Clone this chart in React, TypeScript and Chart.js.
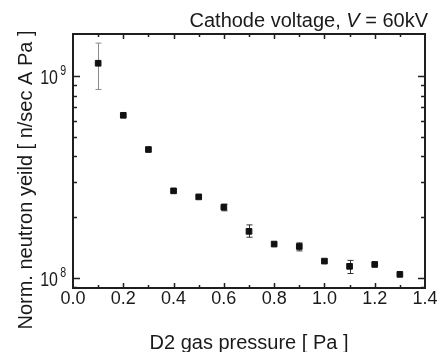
import React, { useEffect, useRef } from "react";
import { Chart, registerables } from "chart.js";
Chart.register(...registerables);

const pressures = [0.1, 0.2, 0.3, 0.4, 0.5, 0.6, 0.7, 0.8, 0.9, 1.0, 1.1, 1.2, 1.3];
const yields = [1.16e9, 6.4e8, 4.33e8, 2.7e8, 2.52e8, 2.24e8, 1.7e8, 1.47e8, 1.43e8, 1.21e8, 1.14e8, 1.165e8, 1.04e8];
const errUpper = [1.46e9, null, null, null, null, 2.32e8, 1.83e8, null, 1.49e8, null, 1.22e8, null, null];
const errLower = [8.6e8, null, null, null, null, 2.15e8, 1.59e8, null, 1.36e8, null, 1.05e8, null, null];
const yTickValues = [9e7, 1e8, 2e8, 3e8, 4e8, 5e8, 6e8, 7e8, 8e8, 9e8, 1e9];
const yLabelTicks = [1e8, 1e9];
const yLabelExponents = ["8", "9"];
const xTickValues = [0, 0.1, 0.2, 0.3, 0.4, 0.5, 0.6, 0.7, 0.8, 0.9, 1.0, 1.1, 1.2, 1.3, 1.4];

const FONT = "'Liberation Sans', Arial, sans-serif";
const AXIS_COLOR = "#1e1e1e";
const TEXT_COLOR = "#1a1a1a";

const framePlugin = {
  id: "frameAndExtras",
  beforeDatasetsDraw(chart: any) {
    const { ctx, scales } = chart;
    const x = scales.x, y = scales.y;
    ctx.save();
    ctx.lineWidth = 1;
    pressures.forEach((p, i) => {
      const hi = errUpper[i], lo = errLower[i];
      if (hi == null || lo == null) return;
      const px = Math.round(x.getPixelForValue(p)) + 0.5;
      const pyH = y.getPixelForValue(hi);
      const pyL = y.getPixelForValue(lo);
      ctx.strokeStyle = i === 0 ? "#8a8a8a" : "#333";
      ctx.beginPath();
      ctx.moveTo(px, pyH); ctx.lineTo(px, pyL);
      ctx.moveTo(px - 3, pyH); ctx.lineTo(px + 3, pyH);
      ctx.moveTo(px - 3, pyL); ctx.lineTo(px + 3, pyL);
      ctx.stroke();
    });
    ctx.restore();
  },
  afterDraw(chart: any) {
    const { ctx, chartArea: a, scales } = chart;
    const x = scales.x, y = scales.y;
    ctx.save();
    ctx.strokeStyle = AXIS_COLOR;
    ctx.lineWidth = 2;
    ctx.strokeRect(a.left, a.top, a.right - a.left, a.bottom - a.top);
    ctx.lineWidth = 1.5;
    ctx.beginPath();
    xTickValues.forEach((v, i) => {
      const px = Math.round(x.getPixelForValue(v)) + 0.5;
      const len = i % 2 === 0 ? 5 : 3;
      if (i !== 0 && i !== xTickValues.length - 1) {
        ctx.moveTo(px, a.bottom); ctx.lineTo(px, a.bottom - len);
        ctx.moveTo(px, a.top); ctx.lineTo(px, a.top + len);
      }
    });
    yTickValues.forEach((v) => {
      const py = Math.round(y.getPixelForValue(v)) + 0.5;
      const major = v === 1e8 || v === 1e9;
      const len = major ? 7 : 4;
      ctx.moveTo(a.left, py); ctx.lineTo(a.left + len, py);
      ctx.moveTo(a.right, py); ctx.lineTo(a.right - len, py);
    });
    ctx.stroke();

    ctx.fillStyle = TEXT_COLOR;
    ctx.textBaseline = "alphabetic";

    // y tick labels (condensed, with superscript exponent)
    yLabelTicks.forEach((v, i) => {
      const py = y.getPixelForValue(v);
      ctx.save();
      ctx.translate(a.left - 15, py + 8);
      ctx.scale(0.76, 1);
      ctx.font = `21px ${FONT}`;
      ctx.textAlign = "right";
      ctx.fillText("10", 0, 0);
      ctx.textAlign = "left";
      ctx.font = `14px ${FONT}`;
      ctx.fillText(yLabelExponents[i], 3, -9);
      ctx.restore();
    });

    // top-right title
    const parts: [string, string][] = [
      ["Cathode voltage, ", `20px ${FONT}`],
      ["V", `italic 20px ${FONT}`],
      [" = 60kV", `20px ${FONT}`],
    ];
    let total = 0;
    parts.forEach(([t, f]) => { ctx.font = f; total += ctx.measureText(t).width; });
    let cx = 428 - total;
    ctx.textAlign = "left";
    parts.forEach(([t, f]) => { ctx.font = f; ctx.fillText(t, cx, 27); cx += ctx.measureText(t).width; });

    // x title
    ctx.font = `20px ${FONT}`;
    ctx.textAlign = "center";
    ctx.fillText("D2 gas pressure [ Pa ]", (a.left + a.right) / 2, 349);

    // y title
    ctx.translate(32, 180);
    ctx.rotate(-Math.PI / 2);
    ctx.textAlign = "center";
    ctx.fillText("Norm. neutron yeild [ n/sec A Pa ]", 0, 0);
    ctx.restore();
  },
};

export default function App() {
  const ref = useRef<HTMLCanvasElement | null>(null);
  useEffect(() => {
    if (!ref.current) return;
    const chart = new Chart(ref.current, {
      type: "scatter",
      data: {
        datasets: [
          {
            data: pressures.map((p, i) => ({ x: p, y: yields[i] })),
            pointStyle: "rect",
            pointRadius: 4,
            pointBorderWidth: 1,
            backgroundColor: "#111",
            borderColor: "#111",
          },
        ],
      },
      options: {
        animation: false,
        responsive: true,
        maintainAspectRatio: false,
        layout: { padding: { top: 34, right: 14, left: 0, bottom: 0 } },
        plugins: { legend: { display: false }, tooltip: { enabled: false }, title: { display: false } },
        scales: {
          x: {
            type: "linear",
            min: 0,
            max: 1.4,
            grid: { display: false, drawTicks: false },
            border: { display: false },
            ticks: {
              stepSize: 0.2,
              padding: 0,
              color: TEXT_COLOR,
              font: { family: FONT, size: 18 },
              callback: (v: any) => Number(v).toFixed(1),
            },
            afterFit: (s: any) => { s.height = 64; },
          },
          y: {
            type: "logarithmic",
            min: 8.9e7,
            max: 1.62e9,
            grid: { display: false, drawTicks: false },
            border: { display: false },
            ticks: { display: false },
            afterFit: (s: any) => { s.width = 73; },
          },
        },
      },
      plugins: [framePlugin],
    });
    return () => chart.destroy();
  }, []);
  return (
    <div style={{ position: "fixed", left: 0, top: 0, width: 439, height: 352, background: "#fff" }}>
      <canvas ref={ref} />
    </div>
  );
}
